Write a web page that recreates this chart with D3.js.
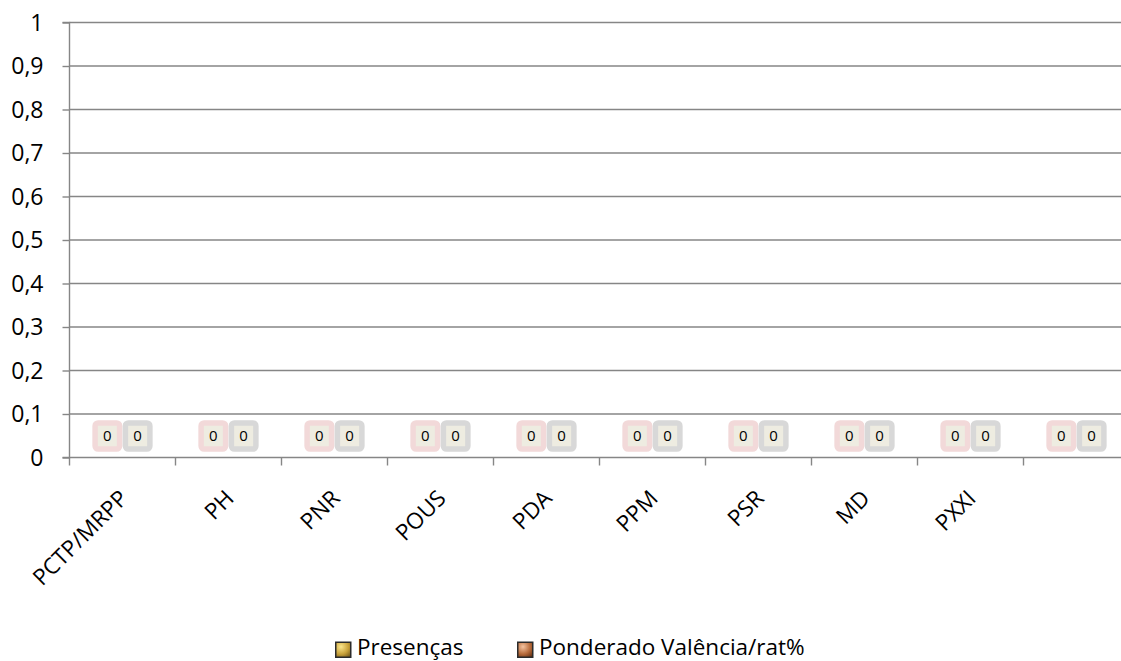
<!DOCTYPE html>
<html>
<head>
<meta charset="utf-8">
<script src="https://cdn.jsdelivr.net/npm/d3@7"></script>
<style>
  html, body { margin: 0; padding: 0; background: #fff; }
  svg { display: block; font-family: "Open Sans", "Noto Sans", sans-serif; }
</style>
</head>
<body>
<svg id="chart" width="1121" height="661"></svg>
<script>
// ---- data ----
const categories = ["PCTP/MRPP", "PH", "PNR", "POUS", "PDA", "PPM", "PSR", "MD", "PXXI", ""];
const seriesNames = ["Presenças", "Ponderado Valência/rat%"];
const presencas = [0, 0, 0, 0, 0, 0, 0, 0, 0, 0];
const ponderado = [0, 0, 0, 0, 0, 0, 0, 0, 0, 0];
const yTicks = [0, 0.1, 0.2, 0.3, 0.4, 0.5, 0.6, 0.7, 0.8, 0.9, 1];

// ---- layout ----
const W = 1121, H = 661;
const plot = { left: 69.5, top: 22.5, bottom: 457.5, bandW: 106 };
const svg = d3.select("#chart");

const x = d3.scaleBand()
  .domain(categories)
  .range([plot.left, plot.left + plot.bandW * categories.length])
  .paddingInner(0).paddingOuter(0);
const bw = x.bandwidth();
const gap = bw * 0.75 / 3.5; // Excel gap width 150%
const x1 = d3.scaleBand().domain(seriesNames).range([gap, bw - gap]);

const y = d3.scaleLinear().domain([0, 1]).range([plot.bottom, plot.top]);
const xEnd = W;

const gridColor = "#868686";

// gridlines
svg.append("g").selectAll("line").data(yTicks.filter(d => d > 0)).join("line")
  .attr("x1", plot.left).attr("x2", xEnd)
  .attr("y1", d => y(d)).attr("y2", d => y(d))
  .attr("stroke", gridColor).attr("stroke-width", 1.4);

// y axis
const yAxis = d3.axisLeft(y).tickValues(yTicks).tickSize(7).tickPadding(19)
  .tickFormat(d => d3.format(".1~f")(d).replace(".", ","));
const gy = svg.append("g").attr("transform", `translate(${plot.left},0)`).call(yAxis);
gy.select(".domain").attr("stroke", gridColor).attr("stroke-width", 1.4)
  .attr("d", `M-7,${y(1)}H0V${y(0)}H-7`);
gy.selectAll(".tick line").attr("stroke", gridColor).attr("stroke-width", 1.4);
gy.selectAll(".tick text").attr("font-size", 23).attr("fill", "#000")
  .attr("font-family", "'Open Sans', sans-serif").attr("dy", "0.34em");

// x axis
const xAxis = d3.axisBottom(x).tickSize(0).tickFormat("");
const gx = svg.append("g").attr("transform", `translate(0,${plot.bottom})`).call(xAxis);
gx.select(".domain").attr("stroke", gridColor).attr("stroke-width", 1.4)
  .attr("d", `M${plot.left},0H${xEnd}`);
gx.selectAll(".tick").remove();
// boundary ticks
const boundaries = d3.range(categories.length + 1);
gx.selectAll("line.bt").data(boundaries).join("line").attr("class", "bt")
  .attr("x1", i => plot.left + i * bw).attr("x2", i => plot.left + i * bw)
  .attr("y1", 0).attr("y2", 8)
  .attr("stroke", gridColor).attr("stroke-width", 1.4);

// category labels (rotated)
svg.append("g").selectAll("text").data(categories).join("text")
  .attr("transform", d => `translate(${x(d) + bw / 2 + 1},494) rotate(-45)`)
  .attr("text-anchor", "end").attr("dy", "0.36em")
  .attr("font-size", 22.5).attr("fill", "#000")
  .text(d => d);

// bars (zero height) and data labels
const rows = categories.map((c, i) => ({ c, vals: [presencas[i], ponderado[i]] }));
const labelBorder = ["#f2d9d9", "#d8d8d8"];
const g = svg.append("g");
rows.forEach(r => {
  r.vals.forEach((v, si) => {
    const cx = x(r.c) + x1(seriesNames[si]) + x1.bandwidth() / 2;
    g.append("rect")
      .attr("x", x(r.c) + x1(seriesNames[si])).attr("width", x1.bandwidth())
      .attr("y", y(v)).attr("height", y(0) - y(v))
      .attr("fill", si === 0 ? "#d9a931" : "#b9693a");
    const cy = y(v) - 21.5;
    const lg = g.append("g").attr("transform", `translate(${cx},${cy})`);
    lg.append("rect").attr("x", -12.25).attr("y", -13.1).attr("width", 24.5).attr("height", 26.2)
      .attr("rx", 3).attr("fill", "#eeece1")
      .attr("stroke", labelBorder[si]).attr("stroke-width", 5.5);
    lg.append("text").attr("text-anchor", "middle").attr("dy", "0.36em")
      .attr("font-size", 15).attr("fill", "#000").text(v);
  });
});

// legend
const defs = svg.append("defs");
const grads = [["#fbe68c", "#c9a23a", "#6b5216"], ["#f4c3a0", "#b66a3a", "#5a2a10"]];
grads.forEach((gc, i) => {
  const lgd = defs.append("radialGradient").attr("id", "lg" + i)
    .attr("cx", "0.35").attr("cy", "0.3").attr("r", "0.9");
  lgd.append("stop").attr("offset", "0%").attr("stop-color", gc[0]);
  lgd.append("stop").attr("offset", "55%").attr("stop-color", gc[1]);
  lgd.append("stop").attr("offset", "100%").attr("stop-color", gc[2]);
});
const legendX = [335, 517];
const leg = svg.append("g");
seriesNames.forEach((n, i) => {
  leg.append("rect").attr("x", legendX[i] + 0.75).attr("y", 642.25)
    .attr("width", 15).attr("height", 15)
    .attr("fill", `url(#lg${i})`).attr("stroke", "#2b2b2b").attr("stroke-width", 1.5);
  leg.append("text").attr("x", legendX[i] + 22).attr("y", 655)
    .attr("font-size", 22.5).attr("fill", "#000").text(n);
});
</script>
</body>
</html>
